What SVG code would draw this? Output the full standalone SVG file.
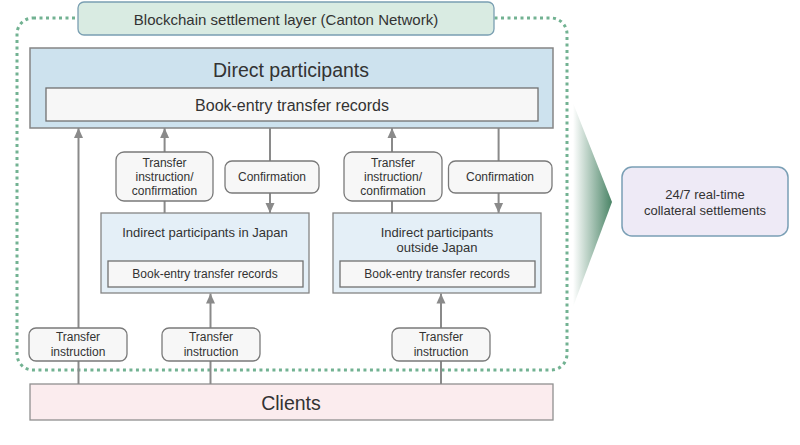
<svg xmlns="http://www.w3.org/2000/svg" width="800" height="445" viewBox="0 0 800 445">
<defs>
<marker id="ah" markerUnits="userSpaceOnUse" markerWidth="10" markerHeight="10" viewBox="0 0 10 10" refX="10" refY="5" orient="auto">
<path d="M0,0.5 L10,5 L0,9.5 z" fill="#8a8a8a"/>
</marker>
<linearGradient id="tri" x1="0" y1="0" x2="1" y2="0">
<stop offset="0" stop-color="#ffffff"/>
<stop offset="1" stop-color="#4a8466"/>
</linearGradient>
</defs>
<style>
text{font-family:"Liberation Sans",Arial,sans-serif;fill:#333;text-anchor:middle;dominant-baseline:central}
.sb{fill:#f7f7f7;stroke:#7a7a7a;stroke-width:1.3}
.ib{fill:#f7f7f7;stroke:#707070;stroke-width:1.3}
.con line{stroke:#8a8a8a;stroke-width:2}
.t12{font-size:12px}
</style>
<rect width="800" height="445" fill="#fff"/>
<g id="boundary">
<rect x="17" y="18" width="550" height="352" rx="16" fill="none" stroke="#72b292" stroke-width="3" stroke-dasharray="3 3.5"/>
</g>
<g id="layer-label">
<rect x="78" y="2" width="416" height="33" rx="6" fill="#d9ebe2" stroke="#7a9fb2" stroke-width="1.3"/>
<text x="286" y="19" style="font-size:15px">Blockchain settlement layer (Canton Network)</text>
</g>
<g id="direct">
<rect x="30" y="48" width="523" height="80" fill="#cde2ee" stroke="#858585" stroke-width="1.5"/>
<text x="291" y="70" style="font-size:19.5px">Direct participants</text>
<rect class="ib" x="46" y="88" width="492" height="33"/>
<text x="292" y="105" style="font-size:16px">Book-entry transfer records</text>
</g>
<g id="indirect-japan">
<rect x="101" y="213" width="208" height="80" fill="#e4eff7" stroke="#858585" stroke-width="1.3"/>
<text x="205" y="232" style="font-size:13px">Indirect participants in Japan</text>
<rect class="ib" x="108" y="261" width="195" height="26"/>
<text class="t12" x="205" y="274">Book-entry transfer records</text>
</g>
<g id="indirect-outside">
<rect x="333" y="213" width="208" height="80" fill="#e4eff7" stroke="#858585" stroke-width="1.3"/>
<text x="437" y="232" style="font-size:13px">Indirect participants</text>
<text x="437" y="247" style="font-size:13px">outside Japan</text>
<rect class="ib" x="340" y="261" width="195" height="26"/>
<text class="t12" x="437" y="274">Book-entry transfer records</text>
</g>
<g id="clients">
<rect x="30" y="384" width="523" height="36" fill="#fbecee" stroke="#909090" stroke-width="1.3"/>
<text x="291" y="403" style="font-size:19.5px">Clients</text>
</g>
<g class="con" id="connectors">
<line x1="78.5" y1="384" x2="78.5" y2="128" marker-end="url(#ah)"/>
<line x1="164.6" y1="213" x2="164.6" y2="128" marker-end="url(#ah)"/>
<line x1="270" y1="128" x2="270" y2="213" marker-end="url(#ah)"/>
<line x1="392" y1="213" x2="392" y2="128" marker-end="url(#ah)"/>
<line x1="498.6" y1="128" x2="498.6" y2="213" marker-end="url(#ah)"/>
<line x1="210.5" y1="384" x2="210.5" y2="293.5" marker-end="url(#ah)"/>
<line x1="441" y1="384" x2="441" y2="293.5" marker-end="url(#ah)"/>
</g>
<g id="tic-japan">
<rect class="sb" x="116" y="152" width="97" height="49" rx="8"/>
<text class="t12" x="164.5" y="162.5">Transfer</text>
<text class="t12" x="164.5" y="176.5">instruction/</text>
<text class="t12" x="164.5" y="190.5">confirmation</text>
</g>
<g id="conf-japan">
<rect class="sb" x="225" y="161" width="94" height="32" rx="7"/>
<text class="t12" x="272" y="177">Confirmation</text>
</g>
<g id="tic-outside">
<rect class="sb" x="344" y="152" width="98" height="49" rx="8"/>
<text class="t12" x="393" y="162.5">Transfer</text>
<text class="t12" x="393" y="176.5">instruction/</text>
<text class="t12" x="393" y="190.5">confirmation</text>
</g>
<g id="conf-outside">
<rect class="sb" x="448.5" y="161" width="103.5" height="32" rx="7"/>
<text class="t12" x="500" y="177">Confirmation</text>
</g>
<g id="ti-1">
<rect class="sb" x="29" y="328" width="98" height="33" rx="7"/>
<text class="t12" x="78" y="337">Transfer</text>
<text class="t12" x="78" y="352">instruction</text>
</g>
<g id="ti-2">
<rect class="sb" x="162" y="328" width="98" height="33" rx="7"/>
<text class="t12" x="211" y="337">Transfer</text>
<text class="t12" x="211" y="352">instruction</text>
</g>
<g id="ti-3">
<rect class="sb" x="392" y="328" width="98" height="33" rx="7"/>
<text class="t12" x="441" y="337">Transfer</text>
<text class="t12" x="441" y="352">instruction</text>
</g>
<g id="chevron">
<polygon points="573,103 612,202 573,307" fill="url(#tri)"/>
</g>
<g id="result">
<rect x="622" y="167" width="166" height="69" rx="10" fill="#eeeaf6" stroke="#7a9fb5" stroke-width="1.5"/>
<text x="705" y="194" style="font-size:13px">24/7 real-time</text>
<text x="705" y="210" style="font-size:13px">collateral settlements</text>
</g>
</svg>
